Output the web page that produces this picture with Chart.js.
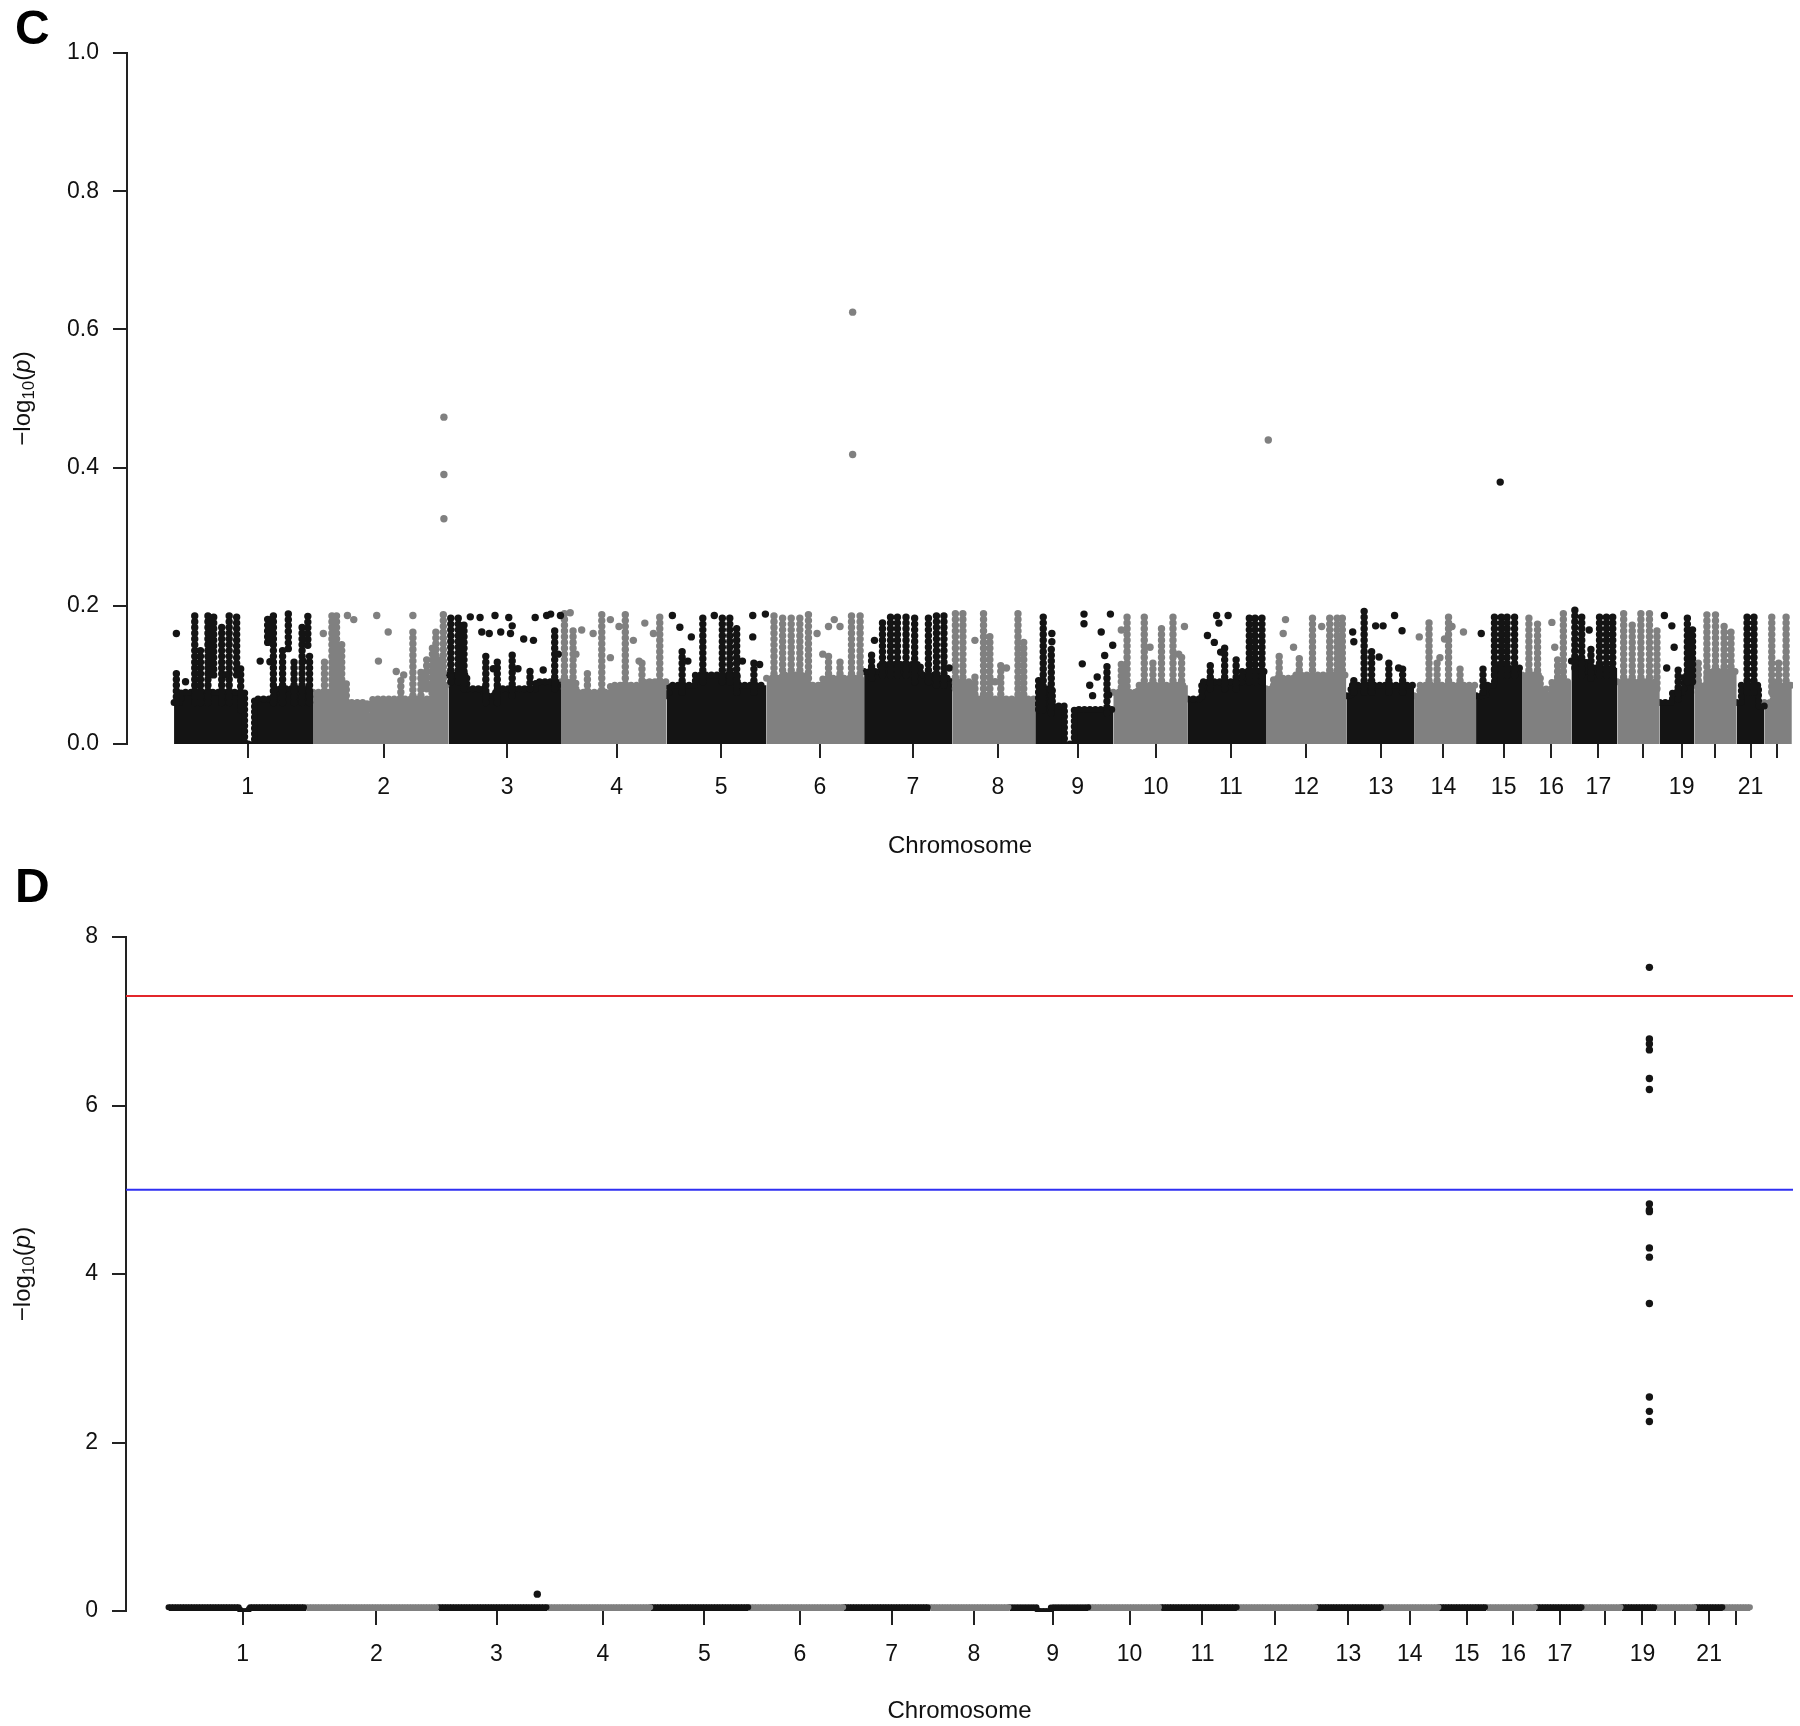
<!DOCTYPE html>
<html>
<head>
<meta charset="utf-8">
<script src="https://cdn.jsdelivr.net/npm/chart.js@4.4.0/dist/chart.umd.min.js"></script>
<style>
  body { margin:0; background:#fff; width:1800px; height:1726px; position:relative; overflow:hidden; font-family:"Liberation Sans", Arial, sans-serif; }
  .panel { position:absolute; left:0; width:1800px; }
  canvas { display:block; }
  .tag { position:absolute; left:15px; font-weight:bold; font-size:48px; line-height:48px; color:#000; }
</style>
</head>
<body>
<div class="panel" style="top:0;height:870px"><canvas id="chartC" width="1800" height="870"></canvas></div>
<div class="panel" style="top:870px;height:856px"><canvas id="chartD" width="1800" height="856"></canvas></div>
<div class="tag" style="top:4px">C</div>
<div class="tag" style="top:862px">D</div>
<script>
// chromosome tick labels (R drops 18, 20, 22 because they would overlap)
var tickLabels = ['1','2','3','4','5','6','7','8','9','10','11','12','13','14','15','16','17','','19','','21',''];

// ---- panel C ----
// SNP span of each chromosome on the cumulative position axis (Mb)
var chrLenC = [242,236,196,184,174,170,154,144,136,130,136,140,118,108,80,86,80,74,60,74,48,48];
// tick = median SNP position of each chromosome
var tickPosC = [128,365,580,771,953,1125,1287,1435,1574,1710,1841,1972,2102,2211,2316,2399,2481,2559,2626,2684,2746,2793];
// dense SNP band: [cumulative pos, -log10(p) top of the packed band]
var bandC = [
  [[0,0.06],[12,0.075],[123,0],[140,0.065],[175,0.08]],
  [[242,0.075],[276,0.06],[336,0.03],[346,0.065],[449,0.085]],
  [[478,0.1],[510,0.08],[540,0.07],[560,0.08],[630,0.09]],
  [[674,0.09],[700,0.075],[760,0.085],[820,0.09]],
  [[858,0.07],[862,0.085],[908,0.1],[981,0.085]],
  [[1032,0.095],[1060,0.1],[1100,0.085],[1130,0.095]],
  [[1202,0.105],[1230,0.115],[1300,0.1],[1330,0.095]],
  [[1356,0.09],[1390,0.065]],
  [[1500,0.06],[1510,0.08],[1530,0.055],[1551,0],[1568,0.05]],
  [[1636,0.075],[1680,0.085]],
  [[1766,0.065],[1790,0.09],[1860,0.105]],
  [[1902,0.08],[1915,0.095],[1950,0.1]],
  [[2042,0.07],[2050,0.085]],
  [[2160,0.07],[2170,0.085]],
  [[2268,0.07],[2285,0.085],[2300,0.11]],
  [[2348,0.1],[2380,0.08],[2390,0.045],[2400,0.09]],
  [[2434,0.12],[2460,0.105],[2475,0.11]],
  [[2514,0.09]],
  [[2588,0.06],[2610,0.075],[2630,0.1]],
  [[2648,0.085],[2670,0.105]],
  [[2722,0.06],[2730,0.085],[2760,0.055]],
  [[2770,0.06],[2785,0.085]]
];
// stacked SNP columns: [cumulative pos, low, high]
var colsC = [
  [4,0.06,0.105],[36,0.06,0.186],[46,0.06,0.143],[59,0.06,0.19],[69,0.1,0.19],[83,0.06,0.176],[96,0.06,0.19],[109,0.1,0.19],[116,0.05,0.109],[163,0.147,0.186],[173,0.06,0.19],[189,0.06,0.143],[199,0.138,0.19],[209,0.06,0.124],[223,0.06,0.176],[233,0.143,0.19],[236,0.06,0.128],
  [275,0.06,0.19],[283,0.06,0.19],[292,0.06,0.15],[416,0.07,0.165],[456,0.07,0.165],[469,0.07,0.19],[262,0.06,0.12],[300,0.045,0.09],[395,0.05,0.1],[430,0.07,0.11],[440,0.08,0.13],[450,0.08,0.14],[462,0.08,0.13],
  [482,0.09,0.19],[495,0.09,0.19],[505,0.08,0.176],[543,0.06,0.13],[563,0.06,0.125],[589,0.07,0.13],[620,0.08,0.11],[663,0.08,0.165],
  [680,0.08,0.19],[695,0.08,0.165],[745,0.07,0.19],[786,0.07,0.19],[846,0.075,0.19],[720,0.06,0.11],[815,0.075,0.12],
  [921,0.09,0.186],[955,0.09,0.19],[968,0.09,0.19],[980,0.075,0.17],[885,0.075,0.14],[1010,0.075,0.12],
  [1045,0.085,0.19],[1060,0.09,0.19],[1075,0.09,0.19],[1090,0.09,0.19],[1105,0.07,0.19],[1180,0.085,0.19],[1195,0.085,0.19],[1140,0.085,0.13],[1160,0.085,0.12],
  [1234,0.1,0.176],[1248,0.1,0.19],[1260,0.1,0.19],[1275,0.1,0.19],[1290,0.09,0.19],[1314,0.09,0.19],[1328,0.085,0.19],[1341,0.085,0.19],[1215,0.095,0.13],
  [1361,0.08,0.19],[1374,0.08,0.19],[1410,0.055,0.19],[1421,0.055,0.16],[1470,0.055,0.19],[1480,0.055,0.15],[1440,0.055,0.12],[1395,0.055,0.1],
  [1514,0.05,0.188],[1528,0.045,0.14],[1625,0.045,0.12],[1506,0.05,0.1],
  [1660,0.075,0.186],[1690,0.075,0.19],[1720,0.075,0.17],[1740,0.075,0.186],[1650,0.065,0.12],[1705,0.075,0.12],[1755,0.075,0.13],
  [1873,0.09,0.19],[1883,0.09,0.19],[1895,0.09,0.19],[1830,0.08,0.14],[1805,0.08,0.12],[1850,0.08,0.13],
  [2013,0.09,0.19],[2026,0.09,0.19],[2035,0.09,0.19],[1983,0.09,0.19],[1925,0.085,0.13],[1960,0.09,0.125],
  [2073,0.075,0.195],[2086,0.075,0.14],[2116,0.075,0.12],[2055,0.075,0.1],[2140,0.075,0.11],
  [2186,0.075,0.183],[2220,0.075,0.19],[2200,0.075,0.12],[2240,0.075,0.11],
  [2300,0.1,0.19],[2312,0.1,0.19],[2322,0.1,0.19],[2335,0.1,0.19],[2280,0.075,0.11],
  [2360,0.09,0.19],[2375,0.09,0.175],[2420,0.08,0.19],[2410,0.08,0.13],
  [2440,0.11,0.195],[2452,0.1,0.19],[2483,0.1,0.19],[2495,0.1,0.19],[2506,0.1,0.19],[2468,0.095,0.14],
  [2525,0.08,0.19],[2540,0.08,0.18],[2555,0.08,0.19],[2570,0.08,0.19],[2583,0.08,0.17],
  [2636,0.09,0.19],[2645,0.09,0.17],[2620,0.065,0.115],
  [2670,0.095,0.19],[2685,0.095,0.19],[2700,0.095,0.175],[2712,0.095,0.17],[2655,0.075,0.12],
  [2740,0.075,0.19],[2752,0.075,0.185],
  [2783,0.075,0.19],[2808,0.075,0.19],[2795,0.075,0.12]
];
// single SNPs: [cumulative pos, -log10(p)]
var dotsC = [
  [4,0.16],[150,0.12],[167,0.119],[225,0.12],[20,0.09],[90,0.1],
  [302,0.186],[313,0.18],[260,0.16],[353,0.186],[373,0.162],[356,0.12],[387,0.105],[416,0.186],[400,0.1],
  [516,0.184],[533,0.183],[559,0.186],[583,0.183],[589,0.171],[629,0.183],[649,0.186],[656,0.188],[673,0.186],[536,0.162],[549,0.16],[569,0.162],[586,0.16],[609,0.152],[626,0.15],[669,0.13],[556,0.109],[599,0.109],[643,0.107],
  [690,0.19],[710,0.165],[730,0.16],[760,0.18],[775,0.17],[800,0.15],[820,0.175],[835,0.16],[700,0.13],[760,0.125],[810,0.12],
  [868,0.186],[881,0.169],[901,0.155],[941,0.186],[1008,0.186],[1008,0.155],[1030,0.188],[895,0.12],[990,0.12],[1020,0.115],
  [1120,0.16],[1140,0.17],[1150,0.18],[1160,0.17],[1130,0.13],
  [1220,0.15],[1350,0.11],
  [1395,0.15],[1450,0.11],[1430,0.09],
  [1529,0.16],[1529,0.148],[1585,0.188],[1585,0.174],[1582,0.116],[1595,0.085],[1608,0.097],[1615,0.162],[1621,0.128],[1631,0.188],[1635,0.143],[1628,0.071],[1600,0.07],
  [1650,0.165],[1700,0.14],[1750,0.13],[1760,0.17],
  [1800,0.157],[1816,0.186],[1820,0.175],[1836,0.186],[1812,0.147],[1823,0.133],
  [1936,0.18],[1932,0.16],[1999,0.17],[1950,0.14],
  [2053,0.162],[2055,0.148],[2093,0.171],[2106,0.171],[2126,0.186],[2139,0.164],[2133,0.11],[2099,0.126],
  [2213,0.152],[2246,0.162],[2169,0.155],[2226,0.17],[2205,0.125],
  [2277,0.16],
  [2400,0.176],[2405,0.14],
  [2465,0.165],
  [2596,0.186],[2609,0.171],[2613,0.14],[2600,0.11]
];
var hitsC = [[470,0.473],[470,0.39],[470,0.326],[1182,0.625],[1182,0.419],[1906,0.44],[2310,0.379]];

// ---- panel D ----
var chrLenD = [240,230,190,180,170,166,150,138,138,126,132,138,114,100,82,86,82,68,60,68,48,48];
var tickPosD = [129,362,571,756,933,1099,1259,1402,1539,1673,1800,1927,2054,2161,2260,2341,2422,2501,2566,2623,2682,2729];
var bandD = [
  [[0,0.045],[124,0],[140,0.045]],[[240,0.045]],[[470,0.045]],[[660,0.045]],[[840,0.045]],[[1010,0.045]],
  [[1176,0.045]],[[1326,0.045]],[[1464,0.045],[1512,0],[1536,0.045]],[[1602,0.045]],[[1728,0.045]],
  [[1860,0.045]],[[1998,0.045]],[[2112,0.045]],[[2212,0.045]],[[2294,0.045]],[[2380,0.045]],
  [[2462,0.045]],[[2530,0.045]],[[2590,0.045]],[[2658,0.045]],[[2706,0.045]]
];
var dotsD = [[642,0.2],[2578,7.64],[2578,6.79],[2578,6.73],[2578,6.66],[2578,6.32],[2578,6.19],[2578,4.83],[2578,4.76],[2578,4.74],[2578,4.31],[2578,4.2],[2578,3.65],[2578,2.54],[2578,2.37],[2578,2.25]];
var genomewideLine = 7.3;
var suggestiveLine = 5;

var BLACK = '#141414', GRAY = '#808080';
var FONT = '"Liberation Sans", Arial, sans-serif';

function chrStarts(lens) {
  var s = [0];
  for (var i = 0; i < lens.length; i++) s.push(s[i] + lens[i]);
  return s;
}
function colourAt(u, st) {
  for (var i = 0; i < st.length - 1; i++) if (u < st[i + 1]) return i % 2 === 0 ? BLACK : GRAY;
  return GRAY;
}

// dotted stroke = a run of touching SNP dots
function dotted(w, gap) {
  return {borderWidth: w, borderDash: [0, w * gap], borderCapStyle: 'round', borderJoinStyle: 'round'};
}

function buildDatasets(cfg) {
  var st = chrStarts(cfg.lens);
  var ds = [];
  cfg.bands.forEach(function (b, i) {
    var pts = b.map(function (p) { return {x: p[0], y: p[1]}; });
    pts.push({x: st[i + 1], y: b[b.length - 1][1]});
    var c = i % 2 === 0 ? BLACK : GRAY;
    ds.push(Object.assign({type: 'line', data: pts, stepped: 'before', showLine: true, fill: 'origin',
      backgroundColor: c, borderColor: c, pointRadius: 0, order: 4,
      clip: {left: 0, right: 0, top: 0, bottom: cfg.bandClip}}, dotted(cfg.bandStroke, cfg.bandGap)));
  });
  [BLACK, GRAY].forEach(function (c) {
    var pts = [];
    cfg.cols.forEach(function (k) {
      if (colourAt(k[0], st) !== c) return;
      pts.push({x: k[0], y: k[1]}, {x: k[0], y: k[2]}, {x: k[0], y: null});
    });
    if (pts.length) {
      ds.push(Object.assign({type: 'line', data: pts, showLine: true, spanGaps: false, fill: false,
        borderColor: c, pointRadius: 0, order: 3}, dotted(7.4, 0.78)));
    }
  });
  ds.push({type: 'scatter', data: cfg.dots.map(function (d) { return {x: d[0], y: d[1]}; }),
    pointRadius: 3.7, pointBorderWidth: 0,
    pointBackgroundColor: cfg.dots.map(function (d) { return colourAt(d[0], st); }), order: 1});
  return ds;
}

// -log10(p) y title with subscript and italic p
var yTitlePlugin = {
  id: 'yTitle',
  afterDraw: function (chart) {
    var ctx = chart.ctx, a = chart.chartArea;
    var parts = [
      {t: '\u2212log', f: '24px ' + FONT, dy: 0},
      {t: '10', f: '17px ' + FONT, dy: 6},
      {t: '(', f: '24px ' + FONT, dy: 0},
      {t: 'p', f: 'italic 24px ' + FONT, dy: 0},
      {t: ')', f: '24px ' + FONT, dy: 0}
    ];
    ctx.save();
    ctx.translate(23, (a.top + a.bottom) / 2);
    ctx.rotate(-Math.PI / 2);
    ctx.fillStyle = '#111';
    ctx.textBaseline = 'middle';
    var total = 0;
    parts.forEach(function (p) { ctx.font = p.f; p.w = ctx.measureText(p.t).width; total += p.w; });
    var x = -total / 2;
    parts.forEach(function (p) { ctx.font = p.f; ctx.fillText(p.t, x, p.dy); x += p.w; });
    ctx.restore();
  }
};

function makeChart(id, cfg) {
  var datasets = buildDatasets(cfg).concat(cfg.extra || []);
  return new Chart(document.getElementById(id), {
    type: 'scatter',
    data: {datasets: datasets},
    options: {
      responsive: false,
      animation: false,
      layout: {padding: {top: cfg.top, right: 7, left: 0, bottom: 0}},
      plugins: {legend: {display: false}, tooltip: {enabled: false}},
      scales: {
        x: {
          type: 'linear', min: cfg.xmin, max: cfg.xmax, offset: false,
          afterFit: function (s) { s.height = cfg.xHeight; },
          afterBuildTicks: function (s) { s.ticks = cfg.ticks.map(function (v) { return {value: v}; }); },
          border: {display: false},
          grid: {display: true, drawOnChartArea: false, drawTicks: true, tickLength: 14, color: '#222', lineWidth: 2},
          ticks: {autoSkip: false, maxRotation: 0, minRotation: 0, padding: 16, color: '#111',
            font: {family: FONT, size: 23},
            callback: function (v, i) { return tickLabels[i]; }},
          title: {display: true, text: 'Chromosome', color: '#111', font: {family: FONT, size: 24, lineHeight: 1.2},
            padding: {top: 0, bottom: cfg.titlePad}}
        },
        y: {
          min: cfg.ymin, max: cfg.ymax,
          afterFit: function (s) { s.width = cfg.yWidth; },
          afterBuildTicks: function (s) { s.ticks = cfg.yTicks.map(function (v) { return {value: v}; }); },
          border: {display: true, color: '#222', width: 2},
          grid: {display: true, drawOnChartArea: false, drawTicks: true, tickLength: 14, color: '#222', lineWidth: 2},
          ticks: {padding: 14, color: '#111', font: {family: FONT, size: 23},
            callback: function (v) { return cfg.yFmt(v); }}
        }
      }
    },
    plugins: [yTitlePlugin]
  });
}

var xMinC = -82, xMaxC = 2820, xMinD = -74, xMaxD = 2828;

makeChart('chartC', {
  lens: chrLenC, bands: bandC, cols: colsC, dots: dotsC, ticks: tickPosC,
  bandStroke: 7, bandGap: 0.78, bandClip: 0,
  extra: [{type: 'scatter', data: hitsC.map(function (d) { return {x: d[0], y: d[1]}; }),
    pointRadius: 3.7, pointBorderWidth: 0,
    pointBackgroundColor: hitsC.map(function (d) { return colourAt(d[0], chrStarts(chrLenC)); }), order: 0}],
  xmin: xMinC, xmax: xMaxC, ymin: 0, ymax: 1, yTicks: [0, 0.2, 0.4, 0.6, 0.8, 1.0],
  yFmt: function (v) { return v.toFixed(1); },
  top: 53, xHeight: 126, yWidth: 127, titlePad: 9
});

makeChart('chartD', {
  lens: chrLenD, bands: bandD, cols: [], dots: dotsD, ticks: tickPosD,
  bandStroke: 6, bandGap: 0.45, bandClip: 1,
  extra: [
    {type: 'line', data: [{x: xMinD, y: genomewideLine}, {x: xMaxD, y: genomewideLine}], showLine: true,
      borderColor: '#e3262b', borderWidth: 2, pointRadius: 0, order: 5},
    {type: 'line', data: [{x: xMinD, y: suggestiveLine}, {x: xMaxD, y: suggestiveLine}], showLine: true,
      borderColor: '#2f2ff2', borderWidth: 2, pointRadius: 0, order: 5}
  ],
  xmin: xMinD, xmax: xMaxD, ymin: 0, ymax: 8, yTicks: [0, 2, 4, 6, 8],
  yFmt: function (v) { return String(v); },
  top: 67, xHeight: 115, yWidth: 126, titlePad: 0
});
</script>
</body>
</html>
